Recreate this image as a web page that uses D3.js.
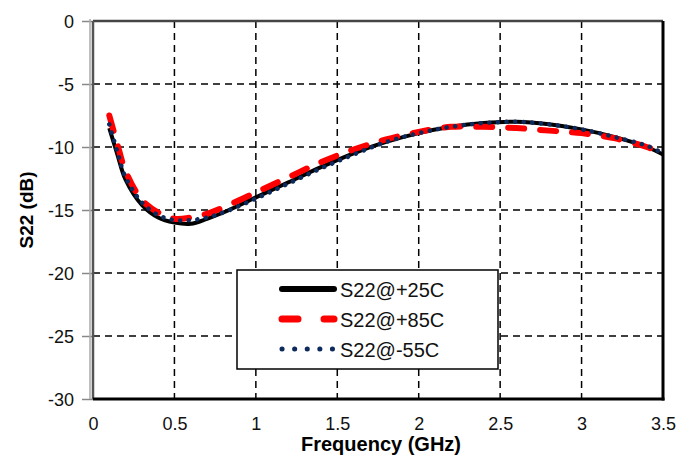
<!DOCTYPE html>
<html>
<head>
<meta charset="utf-8">
<script src="https://cdn.jsdelivr.net/npm/d3@7"></script>
<style>
body { margin: 0; background: #fff; }
svg { display: block; font-family: "Liberation Sans", Arial, sans-serif; }
</style>
</head>
<body>
<svg id="chart" width="694" height="457"></svg>
<script>
// data
const freq = [0.1, 0.15, 0.2, 0.3, 0.4, 0.5, 0.6, 0.7, 0.8, 1.0, 1.2, 1.4, 1.6, 1.8, 2.0, 2.2, 2.4, 2.6, 2.8, 3.0, 3.2, 3.4, 3.5];
const s25 = [-8.5, -10.6, -12.6, -14.6, -15.6, -16.0, -16.1, -15.7, -15.2, -14.0, -12.8, -11.6, -10.5, -9.6, -8.9, -8.4, -8.1, -8.0, -8.2, -8.6, -9.2, -10.0, -10.6];
const s85 = [-7.5, -9.8, -11.9, -14.2, -15.2, -15.7, -15.6, -15.3, -14.8, -13.6, -12.4, -11.2, -10.2, -9.4, -8.8, -8.4, -8.4, -8.5, -8.7, -8.9, -9.3, -10.0, -10.5];
const s55 = [-8.2, -10.4, -12.4, -14.4, -15.4, -15.8, -15.8, -15.6, -15.2, -14.1, -12.9, -11.7, -10.6, -9.6, -8.9, -8.4, -8.1, -8.0, -8.2, -8.6, -9.2, -9.9, -10.5];
const xTicks = [0, 0.5, 1, 1.5, 2, 2.5, 3, 3.5];
const yTicks = [0, -5, -10, -15, -20, -25, -30];
const seriesNames = ["S22@+25C", "S22@+85C", "S22@-55C"];

const svg = d3.select("#chart");
const area = { left: 93, right: 663, top: 21, bottom: 399 };

const scX = d3.scaleLinear().domain([0, 3.5]).range([area.left, area.right]);
const scY = d3.scaleLinear().domain([-30, 0]).range([area.bottom, area.top]);

// grid
svg.append("g").selectAll("line").data(xTicks.slice(1, -1)).enter().append("line")
	.attr("x1", d => scX(d)).attr("x2", d => scX(d))
	.attr("y1", area.top).attr("y2", area.bottom)
	.style("stroke", "#000").style("stroke-width", 1.5).style("stroke-dasharray", "7,5");
svg.append("g").selectAll("line").data(yTicks.slice(1, -1)).enter().append("line")
	.attr("x1", area.left).attr("x2", area.right)
	.attr("y1", d => scY(d)).attr("y2", d => scY(d))
	.style("stroke", "#000").style("stroke-width", 1.5).style("stroke-dasharray", "7,5");

// axes
const axisY = d3.axisLeft(scY).tickValues(yTicks).tickSize(11).tickSizeOuter(0)
	.tickFormat(d => String(d));
const gy = svg.append("g").attr("transform", `translate(${area.left},0)`).call(axisY);
gy.select(".domain").remove();
gy.selectAll("line").style("stroke", "#888").style("stroke-width", 1.5);
gy.selectAll("text").style("font-size", "18px").style("fill", "#111").attr("x", -19).attr("dy", "0.36em");

const axisX = d3.axisBottom(scX).tickValues(xTicks).tickSize(0).tickFormat(d => String(d));
const gx = svg.append("g").attr("transform", `translate(0,${area.bottom})`).call(axisX);
gx.select(".domain").remove();
gx.selectAll("text").style("font-size", "18px").style("fill", "#111").attr("y", 31).attr("dy", 0);

// curves
const lineF = (vals) => d3.line()
	.x((d, i) => scX(freq[i]))
	.y(d => scY(d))
	.curve(d3.curveCatmullRom)(vals);

svg.append("path").attr("d", lineF(s25))
	.style("fill", "none").style("stroke", "#000").style("stroke-width", 4);
svg.append("path").attr("d", lineF(s85))
	.style("fill", "none").style("stroke", "#f00").style("stroke-width", 6)
	.style("stroke-dasharray", "16,16").style("stroke-linecap", "round");
svg.append("path").attr("d", lineF(s55))
	.style("fill", "none").style("stroke", "#0d2a5c").style("stroke-width", 4.5)
	.style("stroke-dasharray", "0.1,8.5").style("stroke-linecap", "round");

// frame
svg.append("line").attr("x1", area.left).attr("x2", area.right).attr("y1", area.top).attr("y2", area.top)
	.style("stroke", "#444").style("stroke-width", 2.5);
svg.append("line").attr("x1", area.left).attr("x2", area.left).attr("y1", area.top).attr("y2", area.bottom)
	.style("stroke", "#555").style("stroke-width", 2.5);
svg.append("line").attr("x1", area.left - 3).attr("x2", area.left - 3).attr("y1", area.top - 2).attr("y2", area.bottom)
	.style("stroke", "#aaa").style("stroke-width", 1.5);
svg.append("line").attr("x1", area.right).attr("x2", area.right).attr("y1", area.top).attr("y2", area.bottom + 1.5)
	.style("stroke", "#000").style("stroke-width", 3);
svg.append("line").attr("x1", area.left).attr("x2", area.right + 1.5).attr("y1", area.bottom).attr("y2", area.bottom)
	.style("stroke", "#000").style("stroke-width", 3);

// legend
const leg = svg.append("g").attr("transform", "translate(237,270)");
leg.append("rect").attr("width", 261).attr("height", 99)
	.style("fill", "#fff").style("stroke", "#000").style("stroke-width", 1.5);
const legStyles = [
	{ color: "#000", width: 6, dash: null },
	{ color: "#f00", width: 7, dash: "16,26" },
	{ color: "#0d2a5c", width: 5, dash: "0.1,12.5" }
];
seriesNames.forEach((name, i) => {
	const y = 19 + i * 30;
	const l = leg.append("line").attr("x1", 45).attr("x2", 97).attr("y1", y).attr("y2", y)
		.style("stroke", legStyles[i].color).style("stroke-width", legStyles[i].width)
		.style("stroke-linecap", "round");
	if (legStyles[i].dash) l.style("stroke-dasharray", legStyles[i].dash);
	leg.append("text").attr("x", 103).attr("y", y + 8).text(name)
		.style("font-size", "20px").style("fill", "#111");
});

// titles
svg.append("text").attr("x", 381).attr("y", 451).attr("text-anchor", "middle")
	.style("font-size", "20px").style("font-weight", "bold").text("Frequency (GHz)");
svg.append("text").attr("transform", "translate(33,210) rotate(-90)").attr("text-anchor", "middle")
	.style("font-size", "19px").style("font-weight", "bold").text("S22 (dB)");
</script>
</body>
</html>
